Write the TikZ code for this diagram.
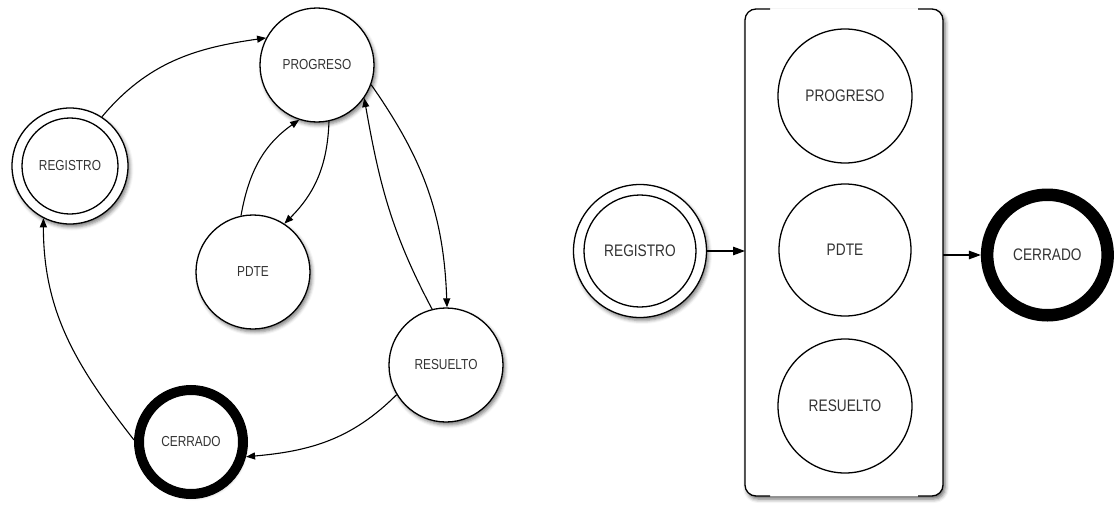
\documentclass[tikz,border=0pt]{standalone}
\usepackage{fontspec}
\setmainfont{Liberation Sans}[FakeStretch=0.82]
\usetikzlibrary{arrows.meta,shadows.blur}
\definecolor{txt}{HTML}{333333}

\begin{document}
\begin{tikzpicture}[x=1pt,y=-1pt,
  soft/.style={blur shadow={shadow xshift=2pt,shadow yshift=-3pt,shadow blur radius=3.5pt,shadow opacity=50}},
  boxshadow/.style={blur shadow={shadow xshift=2pt,shadow yshift=-3pt,shadow blur radius=4pt,shadow opacity=60}},
  state/.style={circle,draw,line width=1.3pt,fill=white,inner sep=0pt,outer sep=auto,text=txt},
  small/.style={font=\fontsize{14.5}{16}\selectfont},
  large/.style={font=\fontsize{16.7}{19}\selectfont},
  final/.style={line width=#1},
  trans/.style={line width=1.1pt,-{Triangle[length=9pt,width=7pt]}},
  bigtrans/.style={line width=1.2pt,-{Triangle[length=12pt,width=8.5pt]}}]
\useasboundingbox (0,0) rectangle (1114,506);

% ---------- state machine ----------
\node[state,soft,minimum size=114pt,small] (prog) at (317,65) {PROGRESO};
\node[state,soft,minimum size=116pt] (reg) at (70,166) {};
\node[state,minimum size=96pt,small] (regin) at (70,166) {REGISTRO};
\node[state,soft,minimum size=114pt,small] (pdte) at (253,272) {PDTE};
\node[state,soft,minimum size=114pt,small] (res) at (446,365) {RESUELTO};
\node[state,soft,final=10pt,minimum size=104pt,small] (cer) at (191,442) {CERRADO};

\draw[trans] (reg.57) to[out=50,in=188] (prog.152);
\draw[trans] (pdte.102) to[out=80,in=215] (prog.252);
\draw[trans] (prog.282) to[out=-92,in=45] (pdte.57);
\draw[trans] (prog.-20) to[out=-55,in=92] (res.89);
\draw[trans] (res.104) to[out=118,in=-80] (prog.-35);
\draw[trans] (res.211) to[out=225,in=5] (cer.-15);
\draw[trans] (cer.178) to[out=128,in=-90] (reg.243);

% ---------- grouped view ----------
\node[fill=white,rounded corners=11pt,minimum width=198pt,minimum height=487pt,
      inner sep=0pt,outer sep=0pt,boxshadow] (grp) at (844,252.5) {};
\draw[line width=1.3pt,rounded corners=11pt]
  ([xshift=25pt]grp.north west) -- (grp.north west) -- (grp.south west) -- ([xshift=25pt]grp.south west);
\draw[line width=1.3pt,rounded corners=11pt]
  ([xshift=-25pt]grp.north east) -- (grp.north east) -- (grp.south east) -- ([xshift=-25pt]grp.south east);

\node[state,minimum size=134pt,large] (prog2) at (845,96) {PROGRESO};
\node[state,minimum size=132pt,large] (pdte2) at (845,250) {PDTE};
\node[state,minimum size=134pt,large] (res2) at (845,406) {RESUELTO};

\node[state,soft,minimum size=133pt] (reg2) at (640,251) {};
\node[state,minimum size=112pt,large] (reg2in) at (640,251) {REGISTRO};
\node[state,soft,final=12.5pt,minimum size=120.5pt,large] (cer2) at (1047.4,255) {CERRADO};

\draw[bigtrans] (reg2.east) -- (reg2.east -| grp.west);
\draw[bigtrans] (grp.east |- cer2.west) -- (cer2.west);
\end{tikzpicture}
\end{document}
